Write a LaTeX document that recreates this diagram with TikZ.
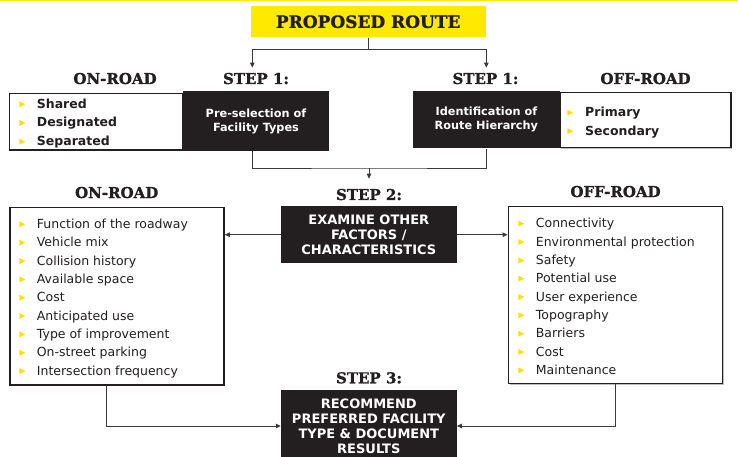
\documentclass[tikz,border=0pt]{standalone}
\usepackage{fontspec}
\setmainfont{DejaVu Sans}
\newfontfamily\headfont{DejaVu Serif}[BoldFeatures={FakeBold=1.2}]
\usetikzlibrary{arrows.meta,shadows,calc}
\definecolor{dark}{HTML}{231F20}
\definecolor{ylw}{HTML}{FFE900}
\definecolor{bulc}{HTML}{FFE000}
\definecolor{linec}{HTML}{3A3A3A}
\begin{document}
\begin{tikzpicture}[x=1pt,y=-1pt,
  head/.style={font=\headfont\bfseries\fontsize{15}{18}\selectfont, text=dark, inner sep=0pt, anchor=base},
  darkbox/.style={fill=dark, text=white, align=center, inner sep=0pt},
  smalldark/.style={darkbox, font=\bfseries\fontsize{11.3}{14}\selectfont},
  bigdark/.style={darkbox, font=\bfseries\fontsize{13}{15}\selectfont},
  whitebox/.style={draw=dark, line width=1.5pt, fill=white, inner sep=0pt,
     drop shadow={shadow xshift=1.2pt, shadow yshift=-1.2pt, fill=gray, opacity=0.5}},
  item/.style={anchor=base west, inner sep=0pt, text=dark, font=\fontsize{12.5}{15}\selectfont},
  bitem/.style={item, font=\bfseries\fontsize{12.5}{15}\selectfont},
  conn/.style={draw=linec, line width=0.9pt},
  arr/.style={conn, -{Triangle[length=5pt,width=4.5pt]}},
]
\useasboundingbox (0,0) rectangle (738,457);
\clip (0,0) rectangle (738,457);
\fill[ylw] (0,0) rectangle (738,1.3);

% title
\node[fill=ylw, minimum width=235pt, minimum height=31.3pt, inner sep=0pt,
      text=dark, font=\headfont\bfseries\fontsize{17}{20}\selectfont] (title) at (368.2,21.7) {PROPOSED ROUTE};

% headings
\node[head] (onroadT) at (115,84) {ON-ROAD};
\node[head] (st1L) at (256,84) {STEP 1:};
\node[head] (st1R) at (485.5,84) {STEP 1:};
\node[head] (offroadT) at (645.5,84) {OFF-ROAD};
\node[head] (onroadM) at (116.7,198) {ON-ROAD};
\node[head] (offroadM) at (615.5,197) {OFF-ROAD};
\node[head] (st2) at (369,200) {STEP 2:};
\node[head] (st3) at (369,383.3) {STEP 3:};

% top boxes
\node[whitebox, minimum width=173.4pt, minimum height=56.7pt] (typesL) at (96,121.7) {};
\node[whitebox, minimum width=171pt, minimum height=55pt] (hierList) at (645.5,120.2) {};
\node[smalldark, minimum width=146.6pt, minimum height=59.4pt] (preL) at (256,121) {Pre-selection of\\Facility Types};
\node[smalldark, minimum width=146.7pt, minimum height=57.6pt] (hierR) at (486.4,119.7) {Identification of\\Route Hierarchy};

% lists
\node[whitebox, minimum width=214pt, minimum height=177.7pt] (onlist) at (117,296.2) {};
\node[whitebox, minimum width=214pt, minimum height=176.6pt] (offlist) at (615.3,295) {};

% step boxes
\node[bigdark, minimum width=175.7pt, minimum height=57.3pt] (st2box) at (368.8,234.7) {EXAMINE OTHER\\FACTORS /\\CHARACTERISTICS};
\node[bigdark, minimum width=175.7pt, minimum height=72pt] (st3box) at (368.8,426) {RECOMMEND\\PREFERRED FACILITY\\TYPE \& DOCUMENT\\RESULTS};

% list items
\foreach \t [count=\i from 0] in {Shared, Designated, Separated} {
  \node[bitem] (tl\i) at (36.7,{108.3+18.7*\i}) {\t};
  \fill[bulc] (19.3,{108.3+18.7*\i-7}) -- ++(6,3) -- ++(-6,3) -- cycle;
}
\foreach \t [count=\i from 0] in {Primary, Secondary} {
  \node[bitem] (tr\i) at (585,{116.7+18.4*\i}) {\t};
  \fill[bulc] (567.3,{116.7+18.4*\i-7}) -- ++(6,3) -- ++(-6,3) -- cycle;
}
\foreach \t [count=\i from 0] in {Function of the roadway, Vehicle mix, Collision history, Available space, Cost, Anticipated use, Type of improvement, On-street parking, Intersection frequency} {
  \node[item] (on\i) at (36.7,{228.3+18.35*\i}) {\t};
  \fill[bulc] (19.3,{228.3+18.35*\i-7}) -- ++(6,3) -- ++(-6,3) -- cycle;
}
\foreach \t [count=\i from 0] in {Connectivity, Environmental protection, Safety, Potential use, User experience, Topography, Barriers, Cost, Maintenance} {
  \node[item] (off\i) at (535.7,{227.7+18.33*\i}) {\t};
  \fill[bulc] (518.3,{227.7+18.33*\i-7}) -- ++(6,3) -- ++(-6,3) -- cycle;
}

% connectors
\coordinate (jTL) at (252.3,49);
\coordinate (jTR) at (486.3,49);
\coordinate (jM) at (369,168);
\coordinate (jB) at (106.7,400);
\draw[arr, shorten >=5pt] (title.south) |- (jTL) -- (jTL |- st1L.north);
\draw[arr, shorten >=5pt] (title.south) |- (jTR) -- (jTR |- st1R.north);
\draw[conn] (preL.south -| jTL) |- (jM) -| (hierR.south -| jTR);
\draw[arr, shorten >=10pt] (jM) -- (st2.north);
\draw[arr] (st2box.west) -- (st2box.west -| onlist.east);
\draw[arr] (st2box.east) -- (st2box.east -| offlist.west);
\draw[arr] (onlist.south -| jB) |- (st3box.west);
\draw[arr] (offlist.south) |- (st3box.east);
\end{tikzpicture}
\end{document}
